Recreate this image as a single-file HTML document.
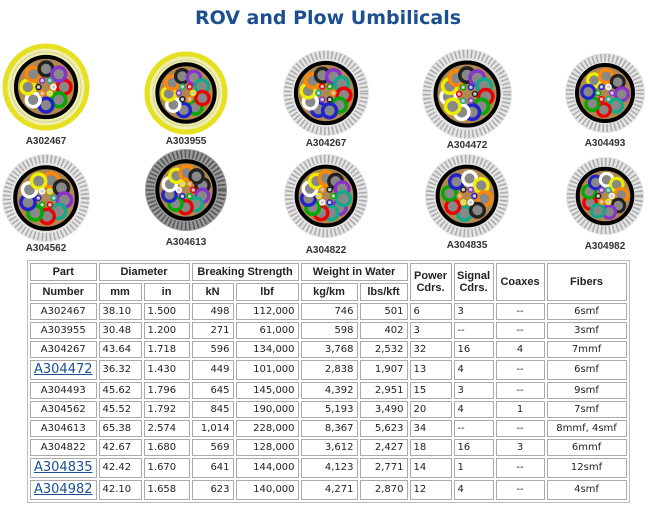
<!DOCTYPE html>
<html><head><meta charset="utf-8"><style>
body{margin:0;width:656px;height:508px;background:#fff;overflow:hidden;position:relative;font-family:"DejaVu Sans","Liberation Sans",sans-serif}
h1{position:absolute;top:7px;left:0;width:656px;text-align:center;margin:0;font:bold 19px "DejaVu Sans","Liberation Sans",sans-serif;color:#1b4f8f}
svg{position:absolute;left:0;top:0}
.lbl{font:bold 10px "Liberation Sans",sans-serif;fill:#333}
table{position:absolute;left:27px;top:260px;border:1px solid #bbb;border-spacing:2px;table-layout:fixed;font-size:10px;color:#222;line-height:12px}
td,th{box-sizing:border-box;border:1px solid #aaa;white-space:nowrap;overflow:hidden}
td{padding:0 3px;height:17px}
th{font:bold 11px "Liberation Sans",sans-serif;height:18px;padding:0}
.r{text-align:right}.c{text-align:center}
a{color:#1a4f9a;font-size:13px;text-decoration:underline}
tr.l td{height:20px}
</style></head><body>
<h1>ROV and Plow Umbilicals</h1>
<svg id="s" width="656" height="260"></svg>
<table>
<colgroup><col style="width:65px"><col style="width:43px"><col style="width:46px"><col style="width:42px"><col style="width:63px"><col style="width:57px"><col style="width:48px"><col style="width:42px"><col style="width:40px"><col style="width:49px"><col style="width:80px"></colgroup>
<tr><th>Part</th><th colspan="2">Diameter</th><th colspan="2">Breaking Strength</th><th colspan="2">Weight in Water</th><th rowspan="2">Power<br>Cdrs.</th><th rowspan="2">Signal<br>Cdrs.</th><th rowspan="2">Coaxes</th><th rowspan="2">Fibers</th></tr>
<tr><th>Number</th><th>mm</th><th>in</th><th>kN</th><th>lbf</th><th>kg/km</th><th>lbs/kft</th></tr>
<tr><td class="c">A302467</td><td>38.10</td><td>1.500</td><td class="r">498</td><td class="r">112,000</td><td class="r">746</td><td class="r">501</td><td>6</td><td>3</td><td class="c">--</td><td class="c">6smf</td></tr>
<tr><td class="c">A303955</td><td>30.48</td><td>1.200</td><td class="r">271</td><td class="r">61,000</td><td class="r">598</td><td class="r">402</td><td>3</td><td>--</td><td class="c">--</td><td class="c">3smf</td></tr>
<tr><td class="c">A304267</td><td>43.64</td><td>1.718</td><td class="r">596</td><td class="r">134,000</td><td class="r">3,768</td><td class="r">2,532</td><td>32</td><td>16</td><td class="c">4</td><td class="c">7mmf</td></tr>
<tr class="l"><td class="c"><a>A304472</a></td><td>36.32</td><td>1.430</td><td class="r">449</td><td class="r">101,000</td><td class="r">2,838</td><td class="r">1,907</td><td>13</td><td>4</td><td class="c">--</td><td class="c">6smf</td></tr>
<tr><td class="c">A304493</td><td>45.62</td><td>1.796</td><td class="r">645</td><td class="r">145,000</td><td class="r">4,392</td><td class="r">2,951</td><td>15</td><td>3</td><td class="c">--</td><td class="c">9smf</td></tr>
<tr><td class="c">A304562</td><td>45.52</td><td>1.792</td><td class="r">845</td><td class="r">190,000</td><td class="r">5,193</td><td class="r">3,490</td><td>20</td><td>4</td><td class="c">1</td><td class="c">7smf</td></tr>
<tr><td class="c">A304613</td><td>65.38</td><td>2.574</td><td class="r">1,014</td><td class="r">228,000</td><td class="r">8,367</td><td class="r">5,623</td><td>34</td><td>--</td><td class="c">--</td><td class="c">8mmf, 4smf</td></tr>
<tr><td class="c">A304822</td><td>42.67</td><td>1.680</td><td class="r">569</td><td class="r">128,000</td><td class="r">3,612</td><td class="r">2,427</td><td>18</td><td>16</td><td class="c">3</td><td class="c">6mmf</td></tr>
<tr class="l"><td class="c"><a>A304835</a></td><td>42.42</td><td>1.670</td><td class="r">641</td><td class="r">144,000</td><td class="r">4,123</td><td class="r">2,771</td><td>14</td><td>1</td><td class="c">--</td><td class="c">12smf</td></tr>
<tr class="l"><td class="c"><a>A304982</a></td><td>42.10</td><td>1.658</td><td class="r">623</td><td class="r">140,000</td><td class="r">4,271</td><td class="r">2,870</td><td>12</td><td>4</td><td class="c">--</td><td class="c">4smf</td></tr>
</table>
<script>
var s=document.getElementById('s'),h='';
var C=[[46,87,43,'A302467',144,1],[186,93,41,'A303955',144,1],[326,93,43,'A304267',146,0],[467,94,45,'A304472',148,0],[605,93,40,'A304493',146,0],
[46,198,44,'A304562',251,0],[186,190,41,'A304613',245,2],[326,196,42,'A304822',253,0],[467,196,42,'A304835',248,0],[605,196,39,'A304982',249,0]];
var cols=['#e00','#0a0','#22c','#fff','#ee0','#f80','#222','#83c','#1a8'];
C.forEach(function(c,k){var x=c[0],y=c[1],R=c[2],t=c[5];
 if(t==1){h+='<circle cx="'+x+'" cy="'+y+'" r="'+(R-2)+'" fill="#eeeeb0" stroke="#e6e020" stroke-width="5"/>';
  h+='<circle cx="'+x+'" cy="'+y+'" r="'+(R-8)+'" fill="none" stroke="#d8d090" stroke-width="1"/>';}
 else{h+='<circle cx="'+x+'" cy="'+y+'" r="'+R+'" fill="'+(t==2?'#999':'#e4e4e4')+'"/>';
  h+='<circle cx="'+x+'" cy="'+y+'" r="'+(R-5)+'" fill="none" stroke="'+(t==2?'#555':'#aaa')+'" stroke-width="8" stroke-dasharray="1.5 2.5"/>';}
 var ri=R*0.7;
 h+='<circle cx="'+x+'" cy="'+y+'" r="'+ri+'" fill="#b08850" stroke="#000" stroke-width="4"/>';
 var n=8+k%4,rr=ri*0.6,cr=ri*0.23;
 for(var i=0;i<n;i++){var a=i/n*6.283+k;var cx=x+rr*Math.cos(a),cy=y+rr*Math.sin(a);
  h+='<circle cx="'+cx.toFixed(1)+'" cy="'+cy.toFixed(1)+'" r="'+cr.toFixed(1)+'" fill="#888" stroke="'+cols[(i+k)%cols.length]+'" stroke-width="'+(cr*0.5).toFixed(1)+'"/>';}
 for(var i=0;i<6;i++){var a=i/6*6.283;h+='<circle cx="'+(x+ri*0.25*Math.cos(a)).toFixed(1)+'" cy="'+(y+ri*0.25*Math.sin(a)).toFixed(1)+'" r="2.5" fill="#ccc" stroke="'+cols[(i+k+3)%cols.length]+'" stroke-width="1.5"/>';}
 h+='<text class="lbl" x="'+x+'" y="'+c[4]+'" text-anchor="middle">'+c[3]+'</text>';
});
s.innerHTML=h;
</script>
</body></html>
